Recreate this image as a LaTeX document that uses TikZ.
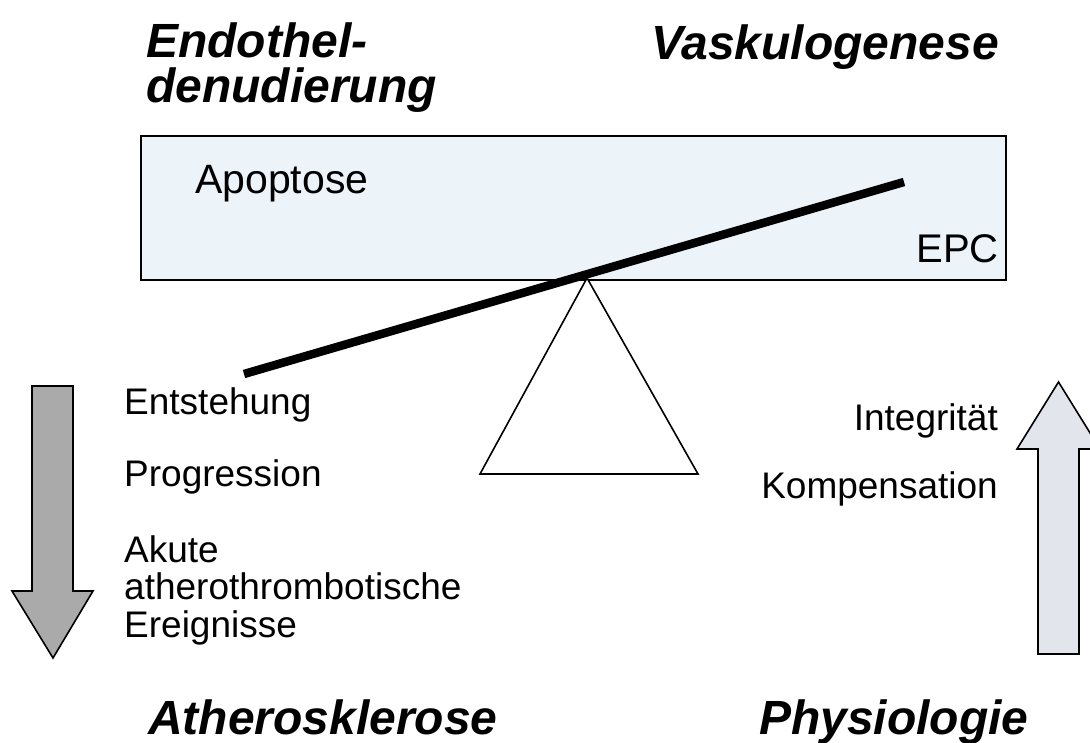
\documentclass[tikz,border=0pt]{standalone}
\usepackage{fontspec}
\setmainfont{Liberation Sans}
\definecolor{boxfill}{RGB}{236,244,250}
\definecolor{downfill}{RGB}{170,170,170}
\definecolor{upfill}{RGB}{226,229,236}
\begin{document}
\begin{tikzpicture}[x=1pt,y=-1pt,
  title/.style={inner sep=0pt,font=\fontsize{48}{48}\selectfont\bfseries\itshape},
  body/.style={inner sep=0pt,font=\fontsize{37}{37}\selectfont},
  boxtext/.style={inner sep=0pt,font=\fontsize{41}{41}\selectfont},
  outline/.style={draw=black,line width=1.6pt,line join=miter}]
\useasboundingbox[fill=white] (0,0) rectangle (1090,743);
% box
\draw[outline,fill=boxfill] (141,136) rectangle (1006,280);
\node[boxtext,anchor=base west] (apo) at (195,194) {Apoptose};
\node[boxtext,anchor=base east,font=\fontsize{40}{40}\selectfont] (epc) at (999,263) {EPC};
% fulcrum
\draw[outline,fill=white] (587,278) -- (480,474) -- (698,474) -- cycle;
% beam
\coordinate (bl) at (244,374);
\coordinate (br) at (904,182);
\draw[line width=8.5pt,black] (bl) -- (br);
% titles
\node[title,anchor=base west] (t1a) at (146,58) {Endothel-};
\node[title,anchor=base west] (t1b) at (146,103) {denudierung};
\node[title,anchor=base west] (t2) at (651,60) {Vaskulogenese};
\node[title,anchor=base west] (t3) at (148,734) {Atherosklerose};
\node[title,anchor=base west] (t4) at (759,734) {Physiologie};
% arrows
\draw[outline,fill=downfill] (32,386) -- (73,386) -- (73,591) -- (93,591) -- (53,658) -- (12,591) -- (32,591) -- cycle;
\draw[outline,fill=upfill] (1038,654) -- (1079,654) -- (1079,449) -- (1100,449) -- (1058.5,382) -- (1017,449) -- (1038,449) -- cycle;
% left texts
\node[body,anchor=base west] (e1) at (124,414) {Entstehung};
\node[body,anchor=base west] (e2) at (124,486) {Progression};
\node[body,anchor=base west] (e3) at (124,562) {Akute};
\node[body,anchor=base west] (e4) at (124,599) {atherothrombotische};
\node[body,anchor=base west] (e5) at (124,637) {Ereignisse};
% right texts
\node[body,anchor=base east] (r1) at (998,430) {Integrität};
\node[body,anchor=base east] (r2) at (998,498) {Kompensation};
\end{tikzpicture}
\end{document}
